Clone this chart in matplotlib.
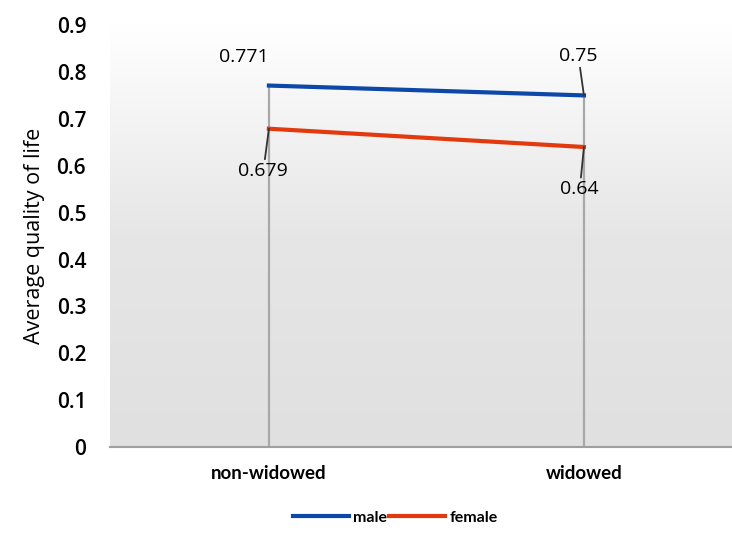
import numpy as np
import matplotlib.pyplot as plt
from matplotlib.colors import LinearSegmentedColormap

categories = ["non-widowed", "widowed"]
male = [0.771, 0.75]
female = [0.679, 0.64]
yticks = [0, 0.1, 0.2, 0.3, 0.4, 0.5, 0.6, 0.7, 0.8, 0.9]

plt.rcParams['font.family'] = ['Open Sans', 'DejaVu Sans']

fig = plt.figure(figsize=(7.32, 5.33), dpi=100)
ax = fig.add_axes([0.150, 0.161, 0.85, 0.792])

x = np.arange(len(categories))

# gradient background: white at top, light gray at bottom
grad = np.linspace(0, 1, 256).reshape(-1, 1)
cmap = LinearSegmentedColormap.from_list("bg", ["#e0e0e0", "#e6e6e6", "#ffffff"])
ax.imshow(grad, cmap=cmap, aspect="auto", origin="lower",
          extent=[-0.505, 1.47, 0, 0.9], zorder=0)

# drop lines
tops = [max(m, f) for m, f in zip(male, female)]
ax.vlines(x, 0, tops, color="#a8a8a8", lw=1.6, zorder=1)

ax.plot(x, male, color="#0d47a8", lw=3, label="male", zorder=3)
ax.plot(x, female, color="#e23a0e", lw=3, label="female", zorder=3)

# data labels
lbl = dict(fontsize=14, fontweight="medium")
lead = dict(arrowstyle="-", color="#333333", lw=1.3, shrinkA=0, shrinkB=0)
ax.annotate(f"{male[0]}", (x[0], male[0]), xytext=(-18, 14), textcoords="offset points",
            ha="center", va="bottom", **lbl)
ax.annotate(f"{male[1]}", (x[1], male[1]), xytext=(-4, 22), textcoords="offset points",
            ha="center", va="bottom", arrowprops=lead, **lbl)
ax.annotate(f"{female[0]}", (x[0], female[0]), xytext=(-4, -24), textcoords="offset points",
            ha="center", va="top", arrowprops=lead, **lbl)
ax.annotate(f"{female[1]}", (x[1], female[1]), xytext=(-3, -24), textcoords="offset points",
            ha="center", va="top", arrowprops=lead, **lbl)

ax.set_xlim(-0.505, 1.47)
ax.set_ylim(0, 0.9)
ax.set_yticks(yticks)
ax.set_yticklabels([f"{t:g}" for t in yticks], fontsize=15, fontweight="semibold")
ax.set_xticks(x)
ax.set_xticklabels(categories, fontsize=13.5, fontweight="bold",
                   family=["Lato", "DejaVu Sans"])
ax.tick_params(length=0, pad=13)
ax.tick_params(axis="y", pad=17)
ax.set_ylabel("Average quality of life", fontsize=15.5, labelpad=8)

for s in ["top", "right", "left"]:
    ax.spines[s].set_visible(False)
ax.spines["bottom"].set_color("#a0a0a0")
ax.spines["bottom"].set_linewidth(1.5)

fig.legend(loc="lower center", bbox_to_anchor=(0.54, -0.012), ncol=2, frameon=False,
           handlelength=3.5, columnspacing=0.15, handletextpad=0.25,
           prop={"family": ["Lato", "DejaVu Sans"], "weight": "bold", "size": 11.5})

fig.savefig("out.png", dpi=100)
